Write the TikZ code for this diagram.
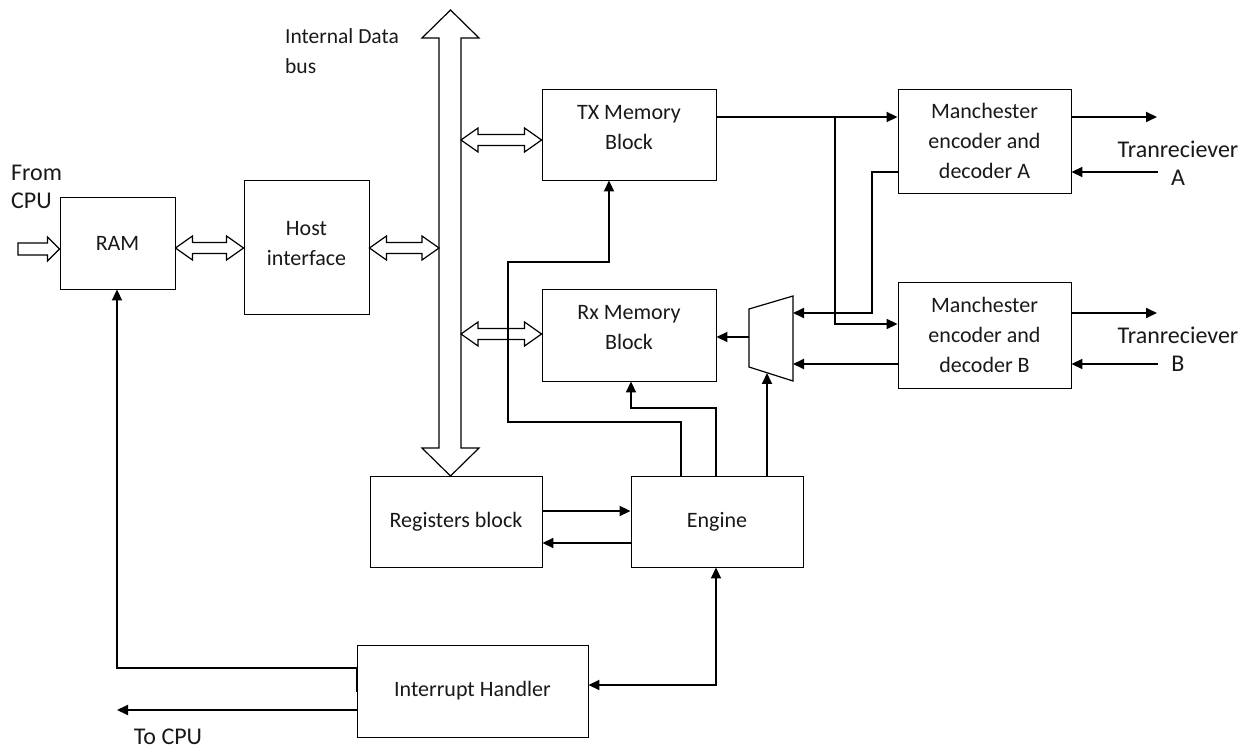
\documentclass[tikz,border=0pt]{standalone}
\usepackage{fontspec}
\setmainfont{Carlito}
\usetikzlibrary{arrows.meta,calc}

\newcommand\boxfont{\fontsize{22}{30}\selectfont}
\newcommand\sidefont{\fontsize{24}{28}\selectfont}

% hollow double-headed bus arrow between two points on one horizontal line
\newcommand\hollowpair[3]{%
  \draw[hollow] let \p1=(#1 |- 0,#3), \p2=(#2 |- 0,#3) in
    (\x1,\y1) -- (\x1+17pt,\y1+12pt) -- (\x1+17pt,\y1+5.5pt) -- (\x2-17pt,\y1+5.5pt)
    -- (\x2-17pt,\y1+12pt) -- (\x2,\y1) -- (\x2-17pt,\y1-12pt) -- (\x2-17pt,\y1-5.5pt)
    -- (\x1+17pt,\y1-5.5pt) -- (\x1+17pt,\y1-12pt) -- cycle;}

\begin{document}
\begin{tikzpicture}[x=1pt,y=-1pt,
  box/.style 2 args={draw, line width=0.9pt, inner sep=0pt, minimum width=#1,
    minimum height=#2, align=center, font=\boxfont, text=black!90},
  hollow/.style={draw, fill=white, line width=1.2pt, line join=miter},
  wire/.style={line width=1.8pt, -{Triangle[length=11pt,width=10pt]}},
  twoway/.style={line width=1.8pt, {Triangle[length=11pt,width=10pt]}-{Triangle[length=11pt,width=10pt]}},
  lbl/.style={inner sep=0pt, text=black!90}]

\fill[white] (0,0) rectangle (1251,751);
\useasboundingbox (0,0) rectangle (1251,751);

% blocks
\node[box={115pt}{92pt}] (ram) at (117.5,243) {RAM};
\node[box={125pt}{134pt}, text depth=8pt] (host) at (306.5,247) {Host\\interface};
\node[box={174pt}{91pt}, text depth=15pt] (tx) at (629,134.5) {TX Memory\\Block};
\node[box={174pt}{92pt}, text depth=15pt] (rx) at (629,335) {Rx Memory\\Block};
\node[box={173pt}{104pt}] (ma) at (984.5,141) {Manchester\\encoder and\\decoder A};
\node[box={173pt}{106pt}] (mb) at (984.5,335) {Manchester\\encoder and\\decoder B};
\node[box={172pt}{91pt}] (regs) at (456,521.5) {Registers block};
\node[box={172pt}{91pt}] (engine) at (717,521.5) {Engine};
\node[box={231pt}{92pt}] (int) at (472.5,691) {Interrupt Handler};

% internal data bus
\coordinate (busTop) at (450.5,10);
\coordinate (busBot) at (450.5,476);
\coordinate (busL) at (439,0);
\coordinate (busR) at (461,0);
\draw[hollow] (busTop) -- (479,38) -- (busR |- 0,38) -- (busR |- 0,448) -- (479,448)
  -- (busBot) -- (422,448) -- (busL |- 0,448) -- (busL |- 0,38) -- (422,38) -- cycle;

% multiplexer
\coordinate (muxTL) at (749,309);
\coordinate (muxBL) at (749,367);
\coordinate (muxTR) at (793,296);
\coordinate (muxBR) at (793,381);
\coordinate (muxBot) at (767,373);
\draw[line width=1.2pt, line join=miter] (muxTL) -- (muxTR) -- (muxBR) -- (muxBL) -- cycle;

% hollow data paths
\coordinate (cpuin) at (18,249);
\draw[hollow] let \p1=(cpuin), \p2=(ram.west |- cpuin) in
  (\x1,\y1+6pt) -- (\x2-12pt,\y1+6pt) -- (\x2-12pt,\y1+12pt) -- (\x2,\y1)
  -- (\x2-12pt,\y1-12pt) -- (\x2-12pt,\y1-6pt) -- (\x1,\y1-6pt) -- cycle;
\hollowpair{ram.east}{host.west}{248}
\hollowpair{host.east}{busL}{248}
\hollowpair{busR}{tx.west}{140}
\hollowpair{busR}{rx.west}{334}

% TX path to the encoders
\coordinate (split) at (835,117);
\draw[wire] (tx.east |- split) -- (ma.west |- split);
\draw[wire] (split) |- (mb.west |- 0,324);

% receive paths into the multiplexer
\draw[wire] (ma.west |- 0,172) -| (872,313) -- (muxTR |- 0,313);
\draw[wire] (mb.west |- 0,364) -- (muxTR |- 0,364);
\draw[wire] (muxTL |- 0,337) -- (rx.east |- 0,337);

% engine control lines
\draw[wire] (767,0 |- engine.north) -- (muxBot);
\draw[wire] (716,0 |- engine.north) |- (631,408) -- (631,0 |- rx.south);
\draw[wire] (681,0 |- engine.north) |- (508,422) |- (609,262) -- (609,0 |- tx.south);
\draw[wire] (regs.east |- 0,511) -- (engine.west |- 0,511);
\draw[wire] (engine.west |- 0,543) -- (regs.east |- 0,543);
\draw[twoway] (int.east |- 0,685) -| (716,0 |- engine.south);

% interrupt outputs
\coordinate (tocpu) at (117,710);
\draw[wire] (int.west |- 0,692) -- (int.west |- 0,668) -| (117,0 |- ram.south);
\draw[wire] (int.west |- tocpu) -- (tocpu);

% transceiver lines
\coordinate (txa) at (1157,117);
\coordinate (rxa) at (1158,172);
\coordinate (txb) at (1157,313);
\coordinate (rxb) at (1158,364);
\draw[wire] (ma.east |- txa) -- (txa);
\draw[wire] (rxa) -- (ma.east |- rxa);
\draw[wire] (mb.east |- txb) -- (txb);
\draw[wire] (rxb) -- (mb.east |- rxb);

% labels
\node[lbl, font=\fontsize{21.5}{30}\selectfont, align=left, anchor=west] (buslbl) at (285,51) {Internal Data\\bus};
\node[lbl, font=\sidefont, align=left, anchor=west] (fromcpu) at (11,187) {From\\CPU};
\node[lbl, font=\sidefont] (tocpulbl) at (168,737) {To CPU};
\node[lbl, font=\sidefont, align=center] (tra) at (1178,163) {Tranreciever\\A};
\node[lbl, font=\sidefont, align=center] (trb) at (1178,349) {Tranreciever\\B};
\end{tikzpicture}
\end{document}
